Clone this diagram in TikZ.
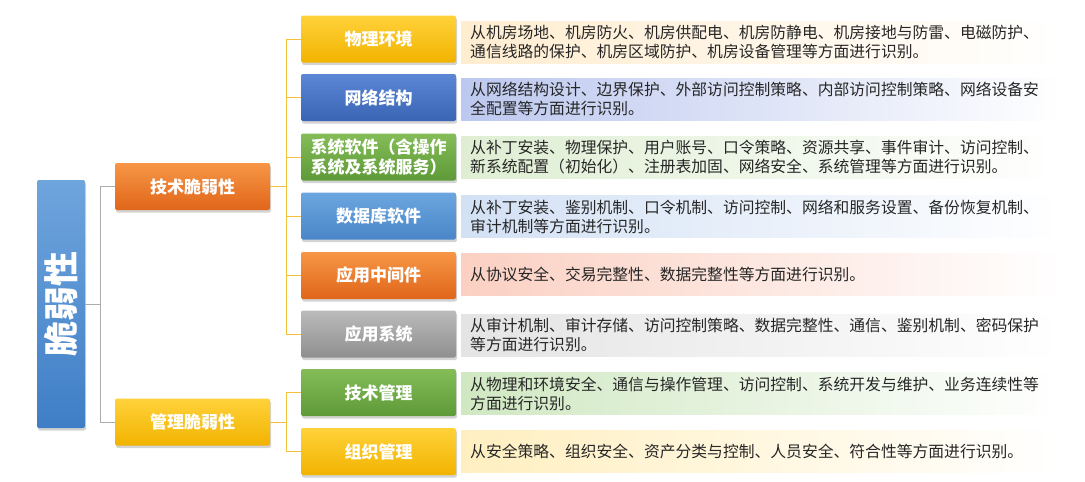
\documentclass[tikz,border=0pt]{standalone}
\usepackage{fontspec}
\setmainfont{Noto Sans CJK SC}
\usetikzlibrary{shadows}
\definecolor{rootT}{HTML}{6FA5DD}
\definecolor{rootB}{HTML}{3F7EC6}
\definecolor{orgT}{HTML}{F79646}
\definecolor{orgB}{HTML}{E0661A}
\definecolor{yelT}{HTML}{FFD23A}
\definecolor{yelB}{HTML}{F2B300}
\definecolor{netT}{HTML}{5B87D6}
\definecolor{netB}{HTML}{3A64B4}
\definecolor{grnT}{HTML}{84BD58}
\definecolor{grnB}{HTML}{5E9A38}
\definecolor{dbT}{HTML}{6CA6E0}
\definecolor{dbB}{HTML}{4A86C8}
\definecolor{gryT}{HTML}{BBBBBB}
\definecolor{gryB}{HTML}{8F8F8F}
\definecolor{goldline}{HTML}{F2C23C}
\definecolor{tintA}{HTML}{FFEDD0}
\definecolor{tintB}{HTML}{BCC8EF}
\definecolor{tintC}{HTML}{DFEED3}
\definecolor{tintD}{HTML}{D3E1F5}
\definecolor{tintE}{HTML}{FBD0C2}
\definecolor{tintF}{HTML}{E4E4E4}
\definecolor{tintG}{HTML}{D0E8C2}
\definecolor{tintH}{HTML}{FFEFC0}
\begin{document}
\begin{tikzpicture}[x=1pt, y=-1pt,
                    box/.style={rectangle, rounded corners=2pt, minimum width=155pt, minimum height=47pt, inner sep=1pt, align=center, text=white, font=\bfseries\fontsize{17}{20}\selectfont, drop shadow={opacity=0.35, shadow xshift=1pt, shadow yshift=-2.5pt}},
                    desc/.style={rectangle, anchor=west, minimum height=42pt, text width=582pt, inner xsep=9pt, align=left, font=\fontsize{15.8}{19}\selectfont, text=black!85},
                    gline/.style={draw=gray!65, line width=0.9pt},
                    yline/.style={draw=goldline, line width=0.9pt},]
  \useasboundingbox (0,0) rectangle (1085,482);
  % root
  \node(root)[box, minimum width=48pt, minimum height=248pt, top color=rootT, bottom color=rootB] at (61,304){};
  \node(root_t)[rotate=90, text=white, font=\bfseries\fontsize{35}{36}\selectfont] at (root){脆弱性};
  % first level
  \node(tech)[box, top color=orgT, bottom color=orgB] at (192.5,186.5){技术脆弱性};
  \node(mgmt)[box, top color=yelT, bottom color=yelB] at (192.5,422){管理脆弱性};
  % second level
  \node(phys)[box, top color=yelT, bottom color=yelB] at (378.5,39){物理环境};
  \node(net)[box, top color=netT, bottom color=netB] at (378.5,97.5){网络结构};
  \node(os)[box, top color=grnT, bottom color=grnB] at (378.5,157){系统软件（含操作\\系统及系统服务）};
  \node(db)[box, top color=dbT, bottom color=dbB] at (378.5,216){数据库软件};
  \node(mid)[box, top color=orgT, bottom color=orgB] at (378.5,275.5){应用中间件};
  \node(app)[box, top color=gryT, bottom color=gryB] at (378.5,334){应用系统};
  \node(tmgmt)[box, top color=grnT, bottom color=grnB] at (378.5,392.5){技术管理};
  \node(org)[box, top color=yelT, bottom color=yelB] at (378.5,451.5){组织管理};
  % descriptions
  \node(phys_d)[desc, left color=tintA, right color=white] at (461,42){从机房场地、机房防火、机房供配电、机房防静电、机房接地与防雷、电磁防护、\\通信线路的保护、机房区域防护、机房设备管理等方面进行识别。};
  \node(net_d)[desc, left color=tintB, right color=white] at (461,99){从网络结构设计、边界保护、外部访问控制策略、内部访问控制策略、网络设备安\\全配置等方面进行识别。};
  \node(os_d)[desc, left color=tintC, right color=white] at (461,157.5){从补丁安装、物理保护、用户账号、口令策略、资源共享、事件审计、访问控制、\\新系统配置（初始化）、注册表加固、网络安全、系统管理等方面进行识别。};
  \node(db_d)[desc, left color=tintD, right color=white] at (461,216.5){从补丁安装、鉴别机制、口令机制、访问控制、网络和服务设置、备份恢复机制、\\审计机制等方面进行识别。};
  \node(mid_d)[desc, left color=tintE, right color=white] at (461,274.5){从协议安全、交易完整性、数据完整性等方面进行识别。};
  \node(app_d)[desc, left color=tintF, right color=white] at (461,335){从审计机制、审计存储、访问控制策略、数据完整性、通信、鉴别机制、密码保护\\等方面进行识别。};
  \node(tmgmt_d)[desc, left color=tintG, right color=white] at (461,393.5){从物理和环境安全、通信与操作管理、访问控制、系统开发与维护、业务连续性等\\方面进行识别。};
  \node(org_d)[desc, left color=tintH, right color=white] at (461,451.5){从安全策略、组织安全、资产分类与控制、人员安全、符合性等方面进行识别。};
  % connectors
  \draw[gline] (root.east) -- ++(15,0) |- (tech.west);
  \draw[gline] (root.east) -- ++(15,0) |- (mgmt.west);
  \draw[yline] (tech.east) -- ++(16,0) |- (phys.west);
  \draw[yline] (tech.east) -- ++(16,0) |- (net.west);
  \draw[yline] (tech.east) -- ++(16,0) |- (os.west);
  \draw[yline] (tech.east) -- ++(16,0) |- (db.west);
  \draw[yline] (tech.east) -- ++(16,0) |- (mid.west);
  \draw[yline] (tech.east) -- ++(16,0) |- (app.west);
  \draw[yline] (mgmt.east) -- ++(16,0) |- (tmgmt.west);
  \draw[yline] (mgmt.east) -- ++(16,0) |- (org.west);
\end{tikzpicture}
\end{document}
